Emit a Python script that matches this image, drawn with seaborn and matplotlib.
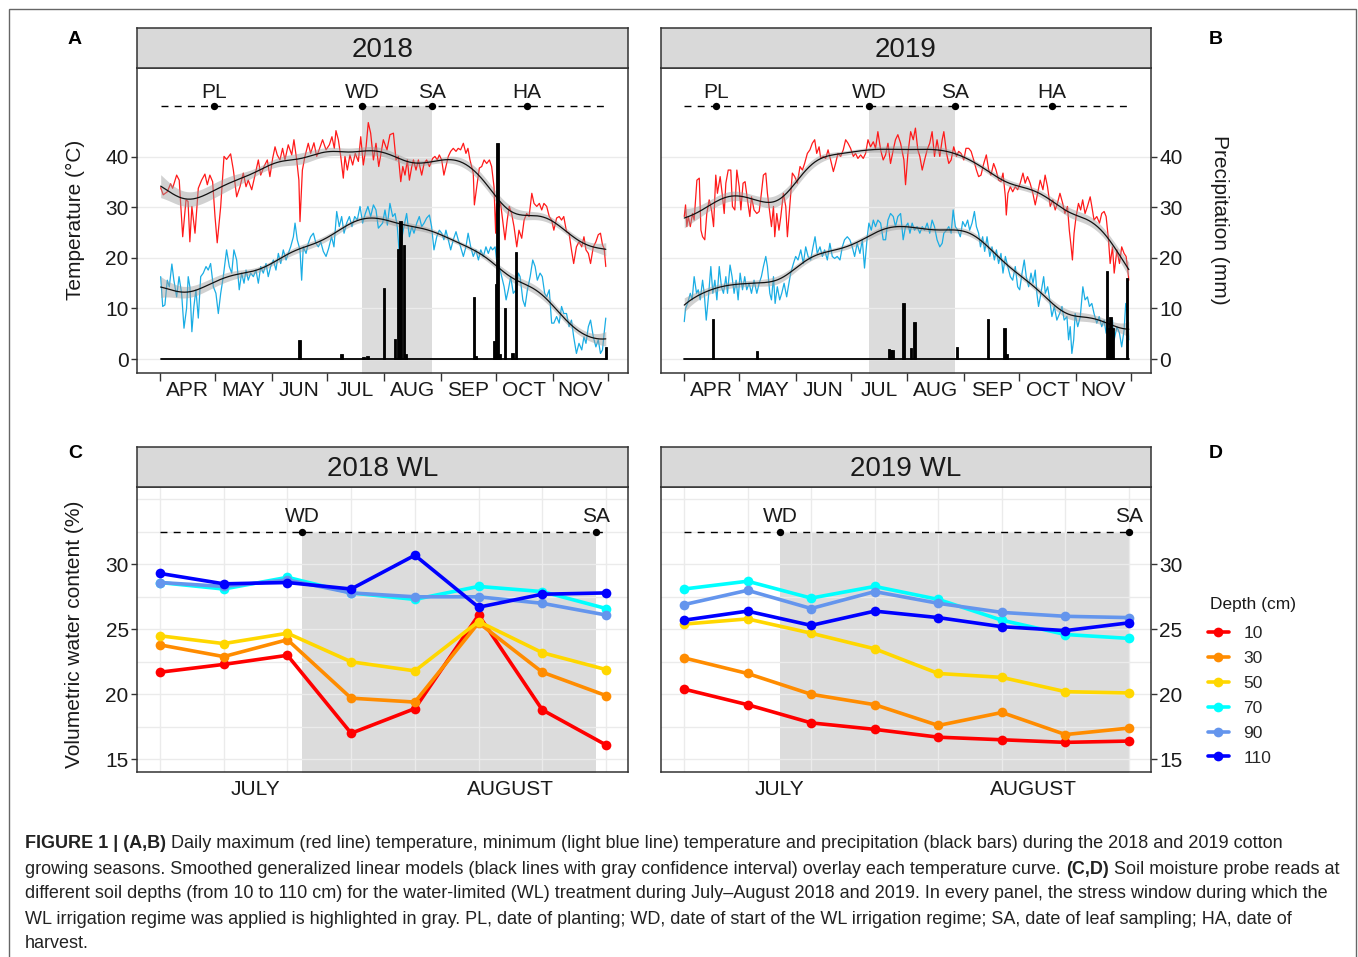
import numpy as np
import pandas as pd
import matplotlib
matplotlib.use("Agg")
import matplotlib.pyplot as plt
import seaborn as sns
from matplotlib.lines import Line2D
from matplotlib.patches import Rectangle
from matplotlib.ticker import FixedLocator, MultipleLocator, NullFormatter

sns.set_theme(style="white")
plt.rcParams['font.family'] = ['Liberation Sans', 'DejaVu Sans']

# ---------------- DATA ----------------
# Days since 1 April (vertices of the daily curves)
TMAX18_DAY = [0.4, 1.8, 4.0, 5.8, 6.9, 9.1, 10.5, 12.4, 14.2, 15.3, 16.3, 17.4, 19.1, 20.9, 22.7, 24.5, 25.8, 27.2, 28.7, 30.0, 31.2, 33.1, 34.9, 36.3, 38.5, 40.0, 41.8, 43.6, 45.4, 46.9, 48.1, 50.0, 51.8, 53.6, 54.9, 56.7, 58.5, 59.9, 61.4, 62.7, 63.9, 65.4, 66.8, 68.1, 69.9, 71.8, 73.0, 74.5, 75.7, 76.3, 77.6, 79.0, 80.8, 82.1, 83.9, 85.4, 86.8, 88.6, 90.5, 92.3, 93.7, 95.0, 95.9, 97.2, 98.5, 99.9, 100.8, 102.1, 103.5, 105.0, 106.4, 108.1, 109.4, 110.8, 112.3, 113.5, 114.8, 116.3, 117.7, 119.2, 121.7, 123.7, 125.3, 127.2, 128.6, 129.9, 131.2, 132.3, 133.5, 134.8, 135.9, 137.2, 138.1, 139.5, 140.8, 142.6, 143.9, 145.3, 146.8, 148.6, 149.8, 151.1, 152.2, 153.5, 154.7, 155.8, 157.1, 158.4, 159.8, 161.3, 162.5, 163.8, 165.3, 166.7, 167.8, 168.9, 170.7, 171.3, 172.6, 174.0, 175.3, 176.6, 178.0, 179.5, 180.7, 182.0, 182.9, 183.4, 184.4, 185.6, 186.7, 188.0, 189.2, 190.3, 191.6, 192.9, 194.4, 195.6, 197.1, 198.4, 199.8, 201.1, 202.6, 203.8, 205.3, 206.7, 208.0, 209.2, 210.7, 212.1, 213.4, 214.6, 216.1, 217.5, 218.8, 220.0, 221.5, 222.9, 224.2, 225.4, 226.9, 228.3, 229.8, 231.0, 232.1, 233.4, 234.6, 236.1, 237.5, 238.8, 240.0, 241.1, 242.0, 242.9]
TMAX18 = [33.9, 32.5, 33.1, 34.7, 33.8, 36.4, 35.4, 24.2, 31.5, 31.2, 23.2, 30.2, 24.9, 33.8, 35.4, 36.6, 34.5, 36.4, 35.1, 28.2, 23.0, 30.2, 40.1, 39.5, 40.6, 37.4, 32.1, 34.1, 36.8, 34.1, 35.4, 33.5, 36.4, 39.4, 36.4, 38.1, 39.4, 36.1, 39.7, 42.0, 40.4, 39.4, 41.7, 39.4, 42.4, 40.4, 43.4, 39.4, 35.4, 27.2, 37.4, 40.1, 42.7, 40.7, 42.8, 40.1, 41.5, 43.4, 41.4, 42.4, 44.0, 41.7, 45.2, 43.4, 40.1, 35.8, 40.1, 37.4, 40.4, 38.4, 40.7, 39.1, 44.0, 38.4, 42.0, 46.8, 44.7, 39.4, 42.7, 38.1, 43.4, 41.4, 44.4, 44.7, 39.4, 40.1, 35.1, 38.1, 36.4, 39.4, 35.4, 38.1, 39.4, 37.4, 39.4, 36.4, 38.7, 39.4, 38.1, 39.7, 40.1, 39.4, 40.4, 39.4, 36.4, 38.1, 40.1, 41.1, 41.7, 41.1, 41.7, 41.4, 42.7, 40.7, 41.7, 39.4, 36.8, 30.5, 34.1, 37.8, 38.1, 39.4, 38.7, 39.4, 38.1, 34.1, 24.9, 30.8, 29.8, 30.8, 27.5, 23.6, 27.5, 30.2, 28.8, 26.2, 22.2, 25.5, 23.9, 27.5, 28.8, 28.2, 32.8, 30.8, 30.2, 30.8, 29.5, 30.8, 30.2, 28.2, 27.5, 25.5, 27.9, 28.2, 27.5, 28.2, 25.2, 24.9, 21.6, 18.9, 22.2, 23.2, 22.2, 24.2, 21.6, 20.9, 18.9, 22.2, 23.2, 24.6, 24.9, 22.6, 21.9, 18.3]

TMIN18_DAY = [0.4, 1.5, 2.7, 4.0, 5.1, 6.5, 7.6, 9.1, 10.4, 11.8, 13.1, 14.5, 15.4, 16.3, 17.4, 18.5, 19.6, 20.9, 22.2, 23.6, 25.1, 26.3, 27.6, 29.1, 30.5, 31.8, 33.1, 34.5, 36.3, 37.8, 39.1, 40.3, 41.8, 43.2, 44.5, 45.8, 46.9, 48.1, 49.4, 50.9, 52.3, 53.6, 54.9, 56.3, 57.8, 59.0, 60.3, 61.8, 63.2, 64.5, 65.8, 67.2, 68.7, 69.9, 71.2, 72.7, 73.6, 74.8, 76.3, 77.2, 78.1, 79.6, 80.8, 82.1, 83.6, 85.0, 86.3, 87.6, 89.0, 90.5, 91.9, 93.5, 94.8, 96.3, 97.7, 99.0, 100.3, 101.7, 103.2, 104.6, 106.1, 107.5, 109.0, 110.4, 111.9, 113.3, 114.8, 116.3, 117.7, 119.0, 121.3, 122.6, 123.9, 125.3, 126.8, 128.1, 129.3, 130.4, 131.7, 132.9, 134.4, 135.9, 137.2, 138.4, 139.9, 141.3, 142.6, 143.9, 145.3, 146.8, 148.0, 149.3, 150.8, 152.2, 153.5, 154.7, 155.8, 157.1, 158.4, 159.8, 161.3, 162.5, 163.8, 165.3, 166.7, 167.9, 169.3, 170.7, 172.1, 173.5, 174.8, 176.2, 177.6, 178.9, 180.2, 181.2, 182.6, 183.4, 184.9, 186.2, 187.5, 188.6, 189.8, 191.1, 192.5, 194.0, 195.3, 196.2, 197.7, 198.9, 200.2, 201.7, 203.1, 204.4, 205.6, 207.1, 208.3, 209.6, 210.7, 212.1, 213.4, 214.6, 216.1, 217.5, 218.8, 220.0, 221.5, 222.9, 224.2, 225.4, 226.9, 228.3, 229.8, 231.0, 232.1, 233.4, 234.6, 236.1, 237.5, 238.8, 240.0, 241.1, 242.0, 242.9]
TMIN18 = [16.3, 10.4, 10.7, 15.6, 14.3, 18.8, 15.6, 12.3, 16.3, 13.0, 6.1, 10.0, 16.3, 14.3, 5.4, 10.4, 13.7, 8.1, 16.3, 17.0, 18.3, 17.6, 18.9, 14.3, 13.0, 9.0, 13.0, 16.3, 21.6, 18.3, 17.0, 21.6, 19.6, 13.7, 17.0, 15.0, 17.6, 15.6, 17.0, 16.3, 17.6, 15.0, 18.3, 17.0, 18.9, 16.3, 18.3, 19.6, 17.6, 20.9, 18.9, 21.6, 19.6, 20.9, 22.2, 24.2, 26.9, 23.6, 21.6, 15.6, 22.2, 20.9, 22.9, 24.2, 24.9, 22.9, 22.2, 23.2, 21.3, 20.3, 21.9, 24.2, 22.2, 29.2, 26.2, 28.2, 24.9, 26.9, 28.2, 26.2, 28.2, 27.5, 30.2, 26.9, 28.8, 30.2, 28.2, 30.5, 29.5, 25.9, 26.9, 29.5, 26.5, 30.8, 28.2, 28.8, 26.2, 20.9, 23.6, 26.2, 28.8, 24.2, 26.2, 24.9, 26.9, 28.2, 26.2, 26.9, 27.9, 28.5, 26.2, 21.6, 24.2, 25.5, 24.9, 23.6, 25.5, 23.6, 21.6, 23.6, 25.2, 23.6, 22.2, 20.3, 22.2, 24.9, 22.2, 20.3, 21.6, 19.6, 21.6, 20.3, 22.2, 20.9, 22.2, 21.6, 22.2, 19.6, 18.3, 16.3, 14.3, 11.7, 13.7, 16.3, 13.0, 13.7, 17.0, 16.3, 11.7, 10.4, 13.7, 16.3, 19.6, 18.3, 15.6, 17.0, 16.3, 13.0, 12.3, 13.7, 7.1, 7.1, 8.4, 7.1, 10.4, 9.0, 9.0, 6.4, 7.7, 4.4, 1.1, 3.1, 1.8, 4.4, 3.1, 6.4, 7.7, 4.4, 2.4, 3.8, 1.1, 1.8, 5.1, 8.1]

PREC18_DAY = [76, 99, 111, 113, 122, 128, 130, 131, 133, 134, 171, 172, 182, 183, 184, 185, 188, 192, 194, 243]
PREC18 = [3.7, 0.9, 0.3, 0.6, 14.0, 4.0, 21.8, 27.3, 22.6, 1.0, 12.2, 0.5, 3.5, 14.8, 42.8, 1.0, 10.0, 1.1, 21.1, 2.4]

TMAX19_DAY = [0.2, 0.9, 1.6, 2.4, 3.5, 4.7, 5.6, 7.1, 8.4, 9.3, 10.2, 11.4, 12.5, 13.8, 15.1, 16.2, 17.4, 18.3, 19.8, 21.1, 22.0, 22.9, 24.2, 25.6, 26.5, 27.8, 28.9, 30.2, 31.1, 32.3, 33.4, 34.7, 36.0, 36.9, 38.3, 39.8, 41.1, 42.3, 43.4, 44.7, 45.6, 46.9, 47.8, 48.9, 49.6, 50.7, 51.9, 52.9, 54.3, 55.6, 56.5, 57.9, 59.2, 60.5, 61.9, 63.4, 64.7, 65.9, 67.4, 68.8, 70.1, 71.4, 72.5, 73.8, 74.7, 76.1, 77.4, 78.7, 80.1, 81.6, 82.8, 84.1, 85.6, 87.0, 88.3, 89.6, 91.0, 92.5, 93.7, 95.0, 96.5, 97.9, 99.2, 100.5, 101.9, 103.4, 104.6, 105.9, 107.4, 108.8, 110.1, 111.4, 112.8, 114.3, 115.5, 116.8, 118.3, 120.1, 121.0, 122.3, 123.8, 125.2, 126.4, 127.7, 128.8, 130.1, 131.4, 132.8, 134.2, 135.5, 136.8, 138.2, 139.7, 141.0, 141.9, 143.4, 144.6, 145.9, 147.3, 148.8, 150.0, 151.3, 152.8, 154.0, 155.5, 156.8, 158.2, 159.7, 160.9, 162.2, 163.7, 165.1, 166.4, 167.6, 169.1, 170.4, 171.8, 173.1, 174.2, 175.5, 176.0, 176.9, 178.2, 179.5, 180.9, 182.2, 183.6, 185.1, 186.3, 187.6, 189.0, 190.5, 191.8, 193.1, 194.5, 196.0, 197.2, 198.5, 200.0, 201.4, 202.7, 203.9, 205.3, 206.8, 208.0, 209.4, 210.4, 211.4, 212.1, 213.0, 214.1, 215.4, 216.6, 217.7, 219.0, 220.3, 221.8, 222.7, 223.9, 225.4, 226.9, 228.1, 229.4, 230.5, 231.8, 232.7, 234.0, 234.9, 236.4, 237.8, 239.0, 240.3, 241.4, 242.1, 242.9]
TMAX19 = [28.2, 30.5, 26.2, 28.2, 26.2, 28.8, 27.5, 35.4, 35.8, 25.5, 24.2, 23.6, 28.8, 31.5, 29.5, 26.2, 36.4, 32.8, 36.1, 32.1, 28.8, 34.8, 37.4, 37.4, 30.2, 29.5, 37.4, 34.1, 29.5, 34.8, 35.1, 31.5, 28.2, 32.1, 29.5, 28.8, 29.2, 32.8, 36.4, 36.8, 32.8, 28.8, 26.2, 30.2, 24.2, 28.8, 25.5, 28.2, 32.8, 30.2, 24.2, 30.8, 36.8, 36.1, 34.8, 38.1, 37.4, 38.7, 40.7, 41.4, 42.7, 43.4, 40.7, 42.0, 39.7, 40.1, 39.7, 41.4, 39.4, 37.1, 38.7, 40.7, 40.1, 41.4, 43.4, 42.7, 41.7, 40.1, 40.7, 39.7, 40.4, 39.7, 40.7, 43.4, 42.0, 43.0, 41.7, 45.0, 41.4, 39.4, 40.4, 42.7, 38.7, 41.4, 43.4, 44.4, 42.7, 39.4, 34.5, 40.7, 45.0, 43.4, 45.7, 41.4, 40.1, 37.4, 39.4, 41.4, 42.7, 45.0, 40.1, 43.4, 40.1, 43.4, 45.0, 40.7, 38.7, 39.4, 42.0, 40.1, 41.1, 40.7, 39.4, 41.7, 41.7, 41.1, 39.4, 37.4, 36.1, 36.4, 38.7, 40.4, 37.4, 36.4, 38.7, 37.4, 35.4, 35.1, 36.8, 32.1, 28.5, 32.8, 34.1, 33.1, 34.1, 33.5, 34.8, 36.8, 34.8, 36.1, 34.8, 32.8, 30.5, 32.8, 35.4, 33.5, 36.4, 34.1, 30.2, 31.5, 29.5, 30.8, 32.8, 30.8, 28.8, 30.2, 25.5, 22.2, 19.6, 24.9, 28.2, 30.8, 29.5, 31.5, 28.8, 30.2, 32.1, 30.2, 27.5, 28.2, 26.9, 28.8, 29.2, 28.2, 23.6, 18.9, 22.2, 17.0, 21.6, 18.9, 22.2, 20.9, 20.3, 18.3, 15.6]

TMIN19_DAY = [0.2, 0.9, 2.0, 3.5, 4.5, 5.6, 6.9, 7.8, 8.9, 10.2, 11.1, 12.2, 13.4, 14.7, 15.8, 16.9, 18.0, 19.3, 20.5, 21.6, 22.9, 23.8, 25.2, 26.3, 27.4, 28.5, 29.6, 30.7, 32.0, 33.2, 34.3, 35.6, 36.9, 38.3, 39.8, 41.1, 42.3, 43.4, 44.7, 45.6, 46.9, 47.8, 48.9, 49.8, 51.0, 52.3, 53.4, 54.7, 56.1, 57.0, 58.3, 59.8, 61.0, 62.3, 63.8, 65.2, 66.5, 67.8, 69.2, 70.5, 71.6, 72.8, 74.3, 75.6, 76.8, 78.3, 79.7, 81.0, 82.3, 83.7, 85.2, 86.5, 87.7, 89.2, 90.6, 91.9, 93.2, 94.6, 96.1, 97.4, 98.6, 100.1, 101.0, 102.3, 103.4, 104.6, 105.9, 107.4, 108.8, 110.1, 111.4, 112.8, 114.3, 115.5, 116.8, 118.3, 119.7, 121.0, 122.3, 123.4, 124.6, 125.9, 127.3, 128.8, 130.1, 131.4, 132.8, 134.2, 135.5, 136.8, 138.2, 139.7, 141.0, 141.9, 143.4, 144.6, 145.9, 147.0, 148.2, 149.5, 150.9, 152.2, 153.6, 154.9, 156.0, 157.3, 158.6, 159.7, 160.9, 161.9, 163.1, 164.2, 165.5, 167.0, 168.2, 169.5, 170.6, 171.8, 173.1, 174.2, 175.5, 176.8, 178.2, 179.5, 180.9, 182.2, 183.3, 184.6, 185.8, 186.9, 188.2, 189.5, 190.6, 191.8, 192.7, 193.6, 194.9, 196.4, 197.3, 198.6, 199.7, 200.9, 202.2, 203.6, 205.1, 206.4, 207.6, 209.1, 210.0, 210.9, 211.8, 212.8, 213.6, 215.0, 216.4, 217.8, 219.0, 220.3, 221.4, 222.7, 223.9, 225.4, 226.7, 228.1, 229.4, 230.5, 231.8, 232.7, 234.0, 234.9, 236.4, 237.8, 239.0, 240.3, 241.2, 242.1, 242.9]
TMIN19 = [7.4, 10.0, 11.0, 13.0, 11.7, 16.3, 13.0, 13.7, 11.7, 15.6, 13.0, 7.7, 12.3, 18.3, 13.0, 15.6, 11.7, 18.3, 14.3, 13.0, 16.3, 13.0, 18.6, 16.3, 13.0, 15.6, 11.7, 17.0, 13.7, 16.3, 13.7, 15.0, 13.0, 15.6, 13.0, 15.0, 16.3, 18.3, 20.3, 18.3, 13.0, 11.7, 16.3, 11.0, 14.3, 11.7, 13.0, 15.0, 12.3, 14.3, 17.0, 18.9, 20.3, 19.6, 21.6, 18.9, 22.2, 20.3, 19.6, 22.2, 24.2, 20.9, 22.2, 20.3, 21.6, 19.6, 22.9, 20.3, 19.9, 20.3, 19.6, 22.2, 23.6, 24.2, 23.6, 22.2, 20.3, 22.9, 20.9, 23.6, 18.0, 24.2, 26.9, 25.5, 27.5, 26.2, 27.5, 26.9, 23.6, 23.6, 27.5, 28.8, 28.2, 26.2, 28.2, 28.8, 23.6, 26.2, 26.9, 24.9, 26.9, 25.5, 26.2, 24.9, 26.2, 25.5, 26.9, 24.9, 27.5, 26.2, 23.6, 22.2, 22.9, 24.9, 25.5, 26.2, 24.9, 29.5, 26.2, 25.5, 24.2, 27.2, 26.2, 27.5, 25.5, 26.9, 29.2, 26.2, 24.9, 22.2, 24.2, 21.3, 24.2, 20.3, 22.2, 19.6, 21.6, 18.9, 20.9, 17.0, 20.3, 18.3, 16.3, 15.6, 18.3, 14.3, 13.7, 17.0, 19.6, 16.3, 14.3, 17.0, 15.0, 17.6, 13.0, 10.4, 13.0, 16.3, 13.0, 14.3, 11.7, 8.4, 10.4, 7.7, 9.0, 10.4, 7.7, 8.4, 3.8, 6.4, 1.1, 3.8, 9.0, 6.4, 8.4, 14.3, 11.7, 12.3, 10.4, 11.0, 9.0, 7.1, 8.4, 6.4, 7.7, 5.1, 7.7, 5.1, 7.7, 3.8, 6.4, 5.1, 2.4, 5.7, 11.0, 9.0, 3.8]

PREC19_DAY = [16, 40, 112, 113, 114, 120, 124, 126, 149, 166, 175, 176, 231, 232, 233, 234, 242]
PREC19 = [8.0, 1.6, 1.9, 1.7, 1.7, 11.0, 2.1, 7.4, 2.3, 7.9, 6.2, 1.0, 17.4, 6.1, 8.4, 6.1, 16.0]

MONTH_START = [0, 30, 61, 91, 122, 153, 183, 214, 244]
MONTHS = ["APR", "MAY", "JUN", "JUL", "AUG", "SEP", "OCT", "NOV"]

EVENTS = ["PL", "WD", "SA", "HA"]
EVENTS18_DAY = [29.3, 110.2, 148.1, 199.8]
EVENTS19_DAY = [17.4, 101.0, 147.8, 200.9]
EVENT_LEVEL_TOP = 50

# Soil moisture (volumetric water content, %) at 8 probe reads, July-August
READS = [0, 1, 2, 3, 4, 5, 6, 7]
READ_MONTH = ["JULY", "JULY", "JULY", "JULY", "AUGUST", "AUGUST", "AUGUST", "AUGUST"]
DEPTHS = ["10", "30", "50", "70", "90", "110"]
VWC18_10 = [21.7, 22.3, 23.0, 17.0, 18.9, 26.1, 18.8, 16.1]
VWC18_30 = [23.8, 22.9, 24.2, 19.7, 19.4, 25.5, 21.7, 19.9]
VWC18_50 = [24.5, 23.9, 24.7, 22.5, 21.8, 25.6, 23.2, 21.9]
VWC18_70 = [28.6, 28.1, 29.0, 27.8, 27.3, 28.3, 27.9, 26.6]
VWC18_90 = [28.6, 28.3, 28.8, 27.8, 27.5, 27.5, 27.0, 26.1]
VWC18_110 = [29.3, 28.5, 28.6, 28.1, 30.7, 26.7, 27.7, 27.8]
VWC19_10 = [20.4, 19.2, 17.8, 17.3, 16.7, 16.5, 16.3, 16.4]
VWC19_30 = [22.8, 21.6, 20.0, 19.2, 17.6, 18.6, 16.9, 17.4]
VWC19_50 = [25.4, 25.8, 24.7, 23.5, 21.6, 21.3, 20.2, 20.1]
VWC19_70 = [28.1, 28.7, 27.4, 28.3, 27.3, 25.7, 24.6, 24.3]
VWC19_90 = [26.9, 28.0, 26.6, 27.9, 27.0, 26.3, 26.0, 25.9]
VWC19_110 = [25.7, 26.4, 25.3, 26.4, 25.9, 25.2, 24.9, 25.5]
EVENTS_WL = ["WD", "SA"]
EVENTS18_READ = [2.23, 6.84]
EVENTS19_READ = [1.51, 7.0]
EVENT_LEVEL_WL = 32.5

DEPTH_COLORS = ["#FF0000", "#FF8C00", "#FFD700", "#00FFFF", "#6495ED", "#0000FF"]
TMAX_COLOR = "#FF1A1A"
TMIN_COLOR = "#1AADE4"

# ---------------- FIGURE ----------------
W, H = 1358, 957
fig = plt.figure(figsize=(W / 100, H / 100), dpi=100)
fig.patch.set_facecolor("white")
TXT = "#1A1A1A"
SP = "#333333"


def add_axes_px(l, t, r, b):
    return fig.add_axes([l / W, 1 - b / H, (r - l) / W, (b - t) / H])


def strip(l, r, t, b, text):
    s = add_axes_px(l, t, r, b)
    s.set_facecolor("#D9D9D9")
    s.set_xticks([])
    s.set_yticks([])
    for sp in s.spines.values():
        sp.set_color(SP)
        sp.set_linewidth(1.1)
    s.text(0.5, 0.44, text, ha="center", va="center", fontsize=20, color=TXT,
           transform=s.transAxes)


def style_spines(ax):
    for sp in ax.spines.values():
        sp.set_visible(True)
        sp.set_color(SP)
        sp.set_linewidth(1.1)


def local_smooth(x, y, grid, h=9.5):
    x = np.asarray(x, float)
    y = np.asarray(y, float)
    fit, se = [], []
    for g in grid:
        w = np.exp(-0.5 * ((x - g) / h) ** 2)
        X = np.column_stack([np.ones_like(x), x - g])
        WX = X * w[:, None]
        A = np.linalg.inv(X.T @ WX)
        beta = A @ (WX.T @ y)
        res = y - X @ beta
        s2 = np.sum(w * res ** 2) / np.sum(w)
        V = A @ (X.T @ (X * (w ** 2)[:, None])) @ A * s2
        fit.append(beta[0])
        se.append(np.sqrt(V[0, 0]))
    return np.array(fit), np.array(se)


def top_panel(ax, tmax_d, tmax, tmin_d, tmin, pr_d, pr, ev_days, right=False):
    d0, d1 = tmax_d[0], tmax_d[-1]
    ax.set_xlim(-12.5, 255.0)
    ax.set_ylim(-2.77, 57.6)
    ax.set_facecolor("white")
    ax.set_axisbelow(True)
    ws, sa = ev_days[1], ev_days[2]
    ax.fill_between([ws, sa], [-10, -10], [EVENT_LEVEL_TOP] * 2, color="#DCDCDC",
                    lw=0, zorder=0.2)
    df = pd.DataFrame({"day": tmax_d, "t": tmax})
    sns.lineplot(data=df, x="day", y="t", ax=ax, color=TMAX_COLOR, lw=0.9, zorder=2)
    df2 = pd.DataFrame({"day": tmin_d, "t": tmin})
    sns.lineplot(data=df2, x="day", y="t", ax=ax, color=TMIN_COLOR, lw=0.9, zorder=2)
    for xd, yv in ((tmax_d, tmax), (tmin_d, tmin)):
        grid = np.linspace(min(xd), max(xd), 300)
        fit, se = local_smooth(xd, yv, grid)
        ax.fill_between(grid, fit - 1.4 * se, fit + 1.4 * se, color="#9A9A9A",
                        alpha=0.45, lw=0, zorder=3)
        ax.plot(grid, fit, color="#111111", lw=0.9, zorder=3.2)
    ax.plot([d0, d1], [0, 0], color="black", lw=1.3, zorder=3.5)
    ax.bar(pr_d, pr, width=1.4, color="black", edgecolor="black", linewidth=0.6,
           zorder=4)
    ax.plot([d0, d1], [EVENT_LEVEL_TOP] * 2, color="black", lw=1.0, ls=(0, (5, 4.5)),
            zorder=5)
    ax.scatter(ev_days, [EVENT_LEVEL_TOP] * len(ev_days), s=28, color="black",
               zorder=6, linewidths=0)
    for name, d in zip(EVENTS, ev_days):
        ax.annotate(name, (d, EVENT_LEVEL_TOP), xytext=(0, 6), textcoords="offset points",
                    ha="center", va="baseline", fontsize=15, color=TXT)
    ax.set_xlabel("")
    ax.set_ylabel("")
    ax.set_xticks(MONTH_START)
    ax.set_xticklabels([])
    mids = [(a + b) / 2 for a, b in zip(MONTH_START[:-1], MONTH_START[1:])]
    ax.xaxis.set_minor_locator(FixedLocator(mids))
    ax.set_xticklabels(MONTHS, minor=True)
    ax.tick_params(axis="x", which="major", length=6, width=1.0, color=SP,
                   direction="out", bottom=True)
    ax.tick_params(axis="x", which="minor", length=0, pad=6, labelsize=15,
                   labelcolor=TXT, bottom=True)
    ax.set_yticks([0, 10, 20, 30, 40])
    ax.tick_params(axis="y", length=4, width=1.0, color=SP, labelsize=15, pad=2,
                   labelcolor=TXT, left=not right, right=right,
                   labelleft=not right, labelright=right)
    ax.yaxis.grid(True, color="#EBEBEB", lw=1.0)
    ax.xaxis.grid(False)
    style_spines(ax)


def wl_panel(ax, series, ev_reads, right=False):
    ax.set_xlim(-0.361, 7.345)
    ax.set_ylim(14.02, 35.95)
    ax.set_facecolor("white")
    ax.set_axisbelow(True)
    ax.fill_between([ev_reads[0], ev_reads[1]], [0, 0], [EVENT_LEVEL_WL] * 2,
                    color="#DCDCDC", lw=0, zorder=0.2)
    rows = []
    for dep, vals in zip(DEPTHS, series):
        for r, v in zip(READS, vals):
            rows.append({"read": r, "vwc": v, "depth": dep})
    df = pd.DataFrame(rows)
    sns.lineplot(data=df, x="read", y="vwc", hue="depth", hue_order=DEPTHS,
                 palette=DEPTH_COLORS, marker="o", markersize=7, markeredgewidth=0,
                 lw=2.6, legend=False, ax=ax, zorder=3)
    ax.plot([READS[0], READS[-1]], [EVENT_LEVEL_WL] * 2, color="black", lw=1.0,
            ls=(0, (5, 4.5)), zorder=5)
    ax.scatter(ev_reads, [EVENT_LEVEL_WL] * len(ev_reads), s=28, color="black",
               zorder=6, linewidths=0)
    for name, d in zip(EVENTS_WL, ev_reads):
        ax.annotate(name, (d, EVENT_LEVEL_WL), xytext=(0, 7), textcoords="offset points",
                    ha="center", va="baseline", fontsize=15, color=TXT)
    ax.set_xlabel("")
    ax.set_ylabel("")
    months = list(dict.fromkeys(READ_MONTH))
    bounds, centers = [], []
    for m in months:
        idx = [r for r, mm in zip(READS, READ_MONTH) if mm == m]
        bounds += [idx[0], idx[-1]]
        centers.append((idx[0] + idx[-1]) / 2)
    ax.set_xticks(bounds)
    ax.set_xticklabels([])
    ax.xaxis.set_minor_locator(FixedLocator(READS))
    ax.tick_params(axis="x", which="major", length=10, width=1.0, color=SP)
    ax.tick_params(axis="x", which="minor", length=0)
    for m, c in zip(months, centers):
        ax.text(c, -0.062, m, transform=ax.get_xaxis_transform(), ha="center",
                va="center", fontsize=15, color=TXT)
    ax.set_yticks([15, 20, 25, 30])
    ax.yaxis.set_minor_locator(MultipleLocator(2.5))
    ax.tick_params(axis="y", which="major", length=4, width=1.0, color=SP, labelsize=15,
                   pad=2, labelcolor=TXT, left=not right, right=right,
                   labelleft=not right, labelright=right)
    ax.tick_params(axis="y", which="minor", length=0)
    ax.grid(True, which="both", color="#EBEBEB", lw=1.0)
    style_spines(ax)


# Panels A, B
axA = add_axes_px(137, 68, 628, 373)
axB = add_axes_px(661, 68, 1151, 373)
top_panel(axA, TMAX18_DAY, TMAX18, TMIN18_DAY, TMIN18, PREC18_DAY, PREC18, EVENTS18_DAY)
top_panel(axB, TMAX19_DAY, TMAX19, TMIN19_DAY, TMIN19, PREC19_DAY, PREC19, EVENTS19_DAY,
          right=True)
strip(137, 628, 28, 68, "2018")
strip(661, 1151, 28, 68, "2019")

# Panels C, D
axC = add_axes_px(137, 487, 628, 772)
axD = add_axes_px(661, 487, 1151, 772)
wl_panel(axC, [VWC18_10, VWC18_30, VWC18_50, VWC18_70, VWC18_90, VWC18_110], EVENTS18_READ)
wl_panel(axD, [VWC19_10, VWC19_30, VWC19_50, VWC19_70, VWC19_90, VWC19_110], EVENTS19_READ,
         right=True)
strip(137, 628, 447, 487, "2018 WL")
strip(661, 1151, 447, 487, "2019 WL")

# axis titles
fig.text(75 / W, 1 - 220 / H, "Temperature (°C)", rotation=90, ha="center", va="center",
         fontsize=15, color=TXT)
fig.text(1220 / W, 1 - 220 / H, "Precipitation (mm)", rotation=270, ha="center",
         va="center", fontsize=15, color=TXT)
fig.text(75 / W, 1 - 634 / H, "Volumetric water content (%)", rotation=90, ha="center",
         va="center", fontsize=15, color=TXT)

# panel letters
for lab, x, y in (("A", 75, 39), ("B", 1216, 39), ("C", 75, 453), ("D", 1216, 453)):
    fig.text(x / W, 1 - y / H, lab, ha="center", va="center", fontsize=14,
             fontweight="bold", color="black")

# legend
fig.text(1210 / W, 1 - 605 / H, "Depth (cm)", ha="left", va="center", fontsize=12.5,
         color=TXT)
handles = [Line2D([], [], color=c, lw=2.6, marker="o", markersize=7, markeredgewidth=0)
           for c in DEPTH_COLORS]
fig.legend(handles, DEPTHS, loc="upper left",
           bbox_to_anchor=(1208 / W, 1 - 626 / H), frameon=False, fontsize=12.5,
           handlelength=1.2, handletextpad=0.85, labelspacing=0.56,
           borderaxespad=0, borderpad=0)

# frame
fig.add_artist(Rectangle((8.5 / W, -0.01), (1356 - 8.5) / W, (957 - 8.5) / H + 0.01,
                         transform=fig.transFigure, fill=False, edgecolor="#666666",
                         lw=1.0))

# caption
CAPTION = [
    [("FIGURE 1 | (A,B)", True), (" Daily maximum (red line) temperature, minimum (light blue line) temperature and precipitation (black bars) during the 2018 and 2019 cotton", False)],
    [("growing seasons. Smoothed generalized linear models (black lines with gray confidence interval) overlay each temperature curve. ", False), ("(C,D)", True), (" Soil moisture probe reads at", False)],
    [("different soil depths (from 10 to 110 cm) for the water-limited (WL) treatment during July\u2013August 2018 and 2019. In every panel, the stress window during which the", False)],
    [("WL irrigation regime was applied is highlighted in gray. PL, date of planting; WD, date of start of the WL irrigation regime; SA, date of leaf sampling; HA, date of", False)],
    [("harvest.", False)],
]
renderer = fig.canvas.get_renderer()
CAP_SIZE = 12.95
for i, segs in enumerate(CAPTION):
    x = 25 / W
    y = 1 - (844 + 25 * i) / H
    for txt, bold in segs:
        t = fig.text(x, y, txt, fontsize=CAP_SIZE, fontweight="bold" if bold else "normal",
                     ha="left", va="center", color="#222222")
        bb = t.get_window_extent(renderer=renderer)
        x += bb.width / W

fig.savefig("out.png", dpi=100)
